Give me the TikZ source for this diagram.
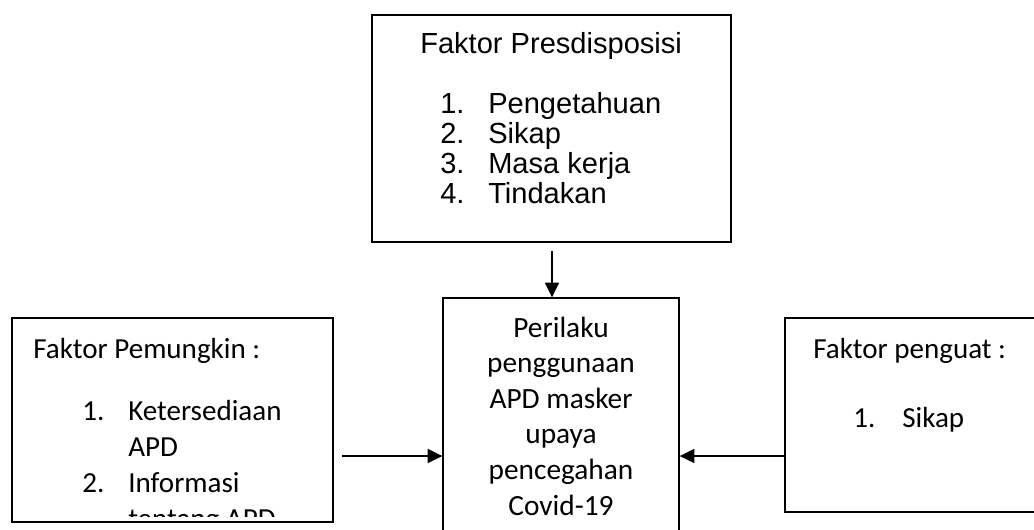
\documentclass[tikz,border=0pt]{standalone}
\usepackage{fontspec}
\setmainfont{Carlito}
\newfontfamily\arialfont{Liberation Sans}
\usetikzlibrary{fit,arrows.meta}
\begin{document}
\begin{tikzpicture}[x=0.75pt,y=-0.75pt,
  boxline/.style={draw=black, line width=1.5pt, inner sep=0pt},
  thinbox/.style={draw=black, line width=1.0pt, inner sep=0pt},
  txt/.style={anchor=base west, inner sep=0pt, font=\fontsize{21.8}{26}\selectfont},
  ctxt/.style={anchor=base, inner sep=0pt, font=\fontsize{22}{26}\selectfont},
  atxt/.style={anchor=base west, inner sep=0pt, font=\arialfont\fontsize{21.8}{26}\selectfont},
  conn/.style={line width=1.1pt, -{Triangle[length=11pt,width=10.5pt]}}]
\useasboundingbox (0,0) rectangle (1034,529);

% corner coordinates
\coordinate (ta) at (372,15);  \coordinate (tb) at (731,242);
\coordinate (la) at (12,318);  \coordinate (lb) at (333,522);
\coordinate (ca) at (443,298); \coordinate (cb) at (679,560);
\coordinate (ra) at (785,318); \coordinate (rb) at (1060,512);

% boxes
\node[boxline, fit=(ta)(tb)] (top) {};
\node[boxline, fit=(la)(lb)] (left) {};
\node[thinbox, fit=(ca)(cb)] (center) {};
\node[boxline, fit=(ra)(rb)] (right) {};

% top box text (Arial)
\node[atxt] (t0) at (420,53) {Faktor Presdisposisi};
\node[atxt] (t1n) at (440,113) {1.};
\node[atxt] (t1) at (488,113) {Pengetahuan};
\node[atxt] (t2n) at (440,143) {2.};
\node[atxt] (t2) at (488,143) {Sikap};
\node[atxt] (t3n) at (440,173) {3.};
\node[atxt] (t3) at (488,173) {Masa kerja};
\node[atxt] (t4n) at (440,203) {4.};
\node[atxt] (t4) at (488,203) {Tindakan};

% left box text (clipped at box bottom, as in the reference)
\begin{scope}
\clip (13,319) rectangle (332,516.5);
\node[txt] (l0) at (33,358) {Faktor Pemungkin :};
\node[txt] (l1n) at (82,420) {1.};
\node[txt] (l1) at (128,420) {Ketersediaan};
\node[txt] (l1b) at (128,456) {APD};
\node[txt] (l2n) at (82,492) {2.};
\node[txt] (l2) at (128,492) {Informasi};
\node[txt] (l2b) at (128,528) {tentang APD};
\end{scope}

% center box text
\node[ctxt] (c1) at (561,337) {Perilaku};
\node[ctxt] (c2) at (561,372.6) {penggunaan};
\node[ctxt] (c3) at (561,408.2) {APD masker};
\node[ctxt] (c4) at (561,443.8) {upaya};
\node[ctxt] (c5) at (561,479.4) {pencegahan};
\node[ctxt] (c6) at (561,515) {Covid-19};

% right box text
\node[txt] (r0) at (813,358) {Faktor penguat :};
\node[txt] (r1n) at (853,427) {1.};
\node[txt] (r1) at (902,427) {Sikap};

% connectors
\coordinate (s1) at (552,251);
\coordinate (s2) at (342,456);
\coordinate (s3) at (right.west |- 0,456);
\draw[conn] (s1) -- (s1 |- center.north);
\draw[conn] (s2) -- (s2 -| center.west);
\draw[conn] (s3) -- (s3 -| center.east);
\end{tikzpicture}
\end{document}
